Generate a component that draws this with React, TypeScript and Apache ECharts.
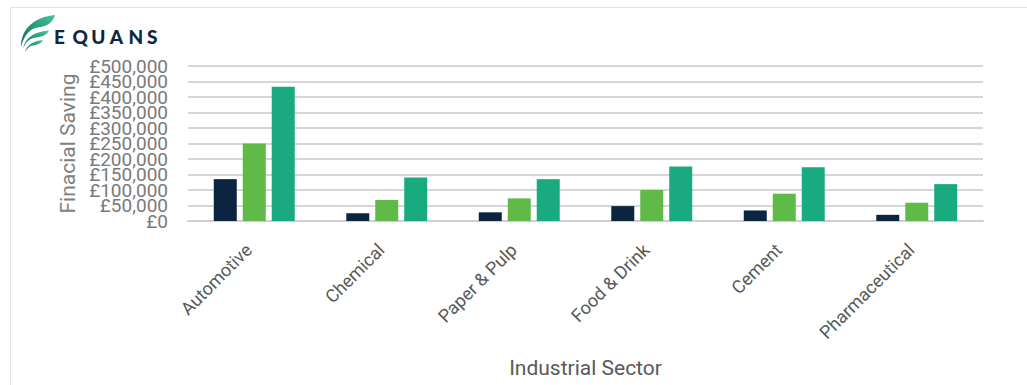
import React, { useEffect, useRef } from "react";
import * as echarts from "echarts";

const categories = ["Automotive", "Chemical", "Paper & Pulp", "Food & Drink", "Cement", "Pharmaceutical"];
const seriesLow = [135000, 25000, 28000, 48000, 34000, 20000];
const seriesMid = [250000, 68000, 73000, 100000, 88000, 59000];
const seriesHigh = [433000, 140000, 135000, 176000, 173000, 119000];
const colors = ["#0b2540", "#5fba47", "#1aaa80"];
const tickValuesEven = [0, 100000, 200000, 300000, 400000, 500000];
const tickValuesOdd = [50000, 150000, 250000, 350000, 450000];
const logoLetters = ["E", "Q", "U", "A", "N", "S"];

const blade1 = "M0 32 C0 13 14 2 34 0 C32 7 27 11 19 12 C9 13 3 20 0 32 Z";
const blade2 = "M2 34 C4 23 12 17 28 15.5 C26 20 21 22 15 22.5 C8 23 4 28 2 34 Z";
const blade3 = "M4 37 C6 30 12 26 22 25 C20 29 16 30 12 30.5 C8 31 6 34 4 37 Z";

let registered = false;
function registerShapes() {
  if (registered) return;
  echarts.graphic.registerShape("blade1", echarts.graphic.extendPath(blade1, {}) as any);
  echarts.graphic.registerShape("blade2", echarts.graphic.extendPath(blade2, {}) as any);
  echarts.graphic.registerShape("blade3", echarts.graphic.extendPath(blade3, {}) as any);
  registered = true;
}

export default function App() {
  const ref = useRef<HTMLDivElement>(null);
  useEffect(() => {
    registerShapes();
    const chart = echarts.init(ref.current!, undefined, { renderer: "svg" });
    const grad = () =>
      new echarts.graphic.LinearGradient(0, 1, 1, 0, [
        { offset: 0, color: "#0b6a5a" },
        { offset: 1, color: "#45c79a" },
      ]);
    const fmt = (v: number) => "£" + v.toLocaleString("en-GB");
    const labelBase = {
      formatter: fmt,
      margin: 20,
      fontSize: 19,
      color: "#7a7a7a",
      fontFamily: "Roboto",
      showMinLabel: true,
      showMaxLabel: true,
      hideOverlap: false,
    };
    chart.setOption({
      animation: false,
      backgroundColor: "#ffffff",
      grid: { left: 188, right: 44, top: 66, bottom: 164, containLabel: false },
      xAxis: {
        type: "category",
        data: categories,
        axisLine: { lineStyle: { color: "#cfcfcf", width: 2 } },
        axisTick: { show: false },
        axisLabel: {
          rotate: 45,
          margin: 20,
          padding: [0, 8, 0, 0],
          fontSize: 18,
          color: "#595959",
          fontFamily: "Roboto",
          interval: 0,
        },
        name: "Industrial Sector",
        nameLocation: "middle",
        nameGap: 136,
        nameTextStyle: { fontSize: 21, color: "#595959", fontFamily: "Roboto" },
      },
      yAxis: [
        {
          type: "value",
          min: 0,
          max: 500000,
          interval: 50000,
          axisLine: { show: false },
          axisTick: { show: false },
          splitLine: { lineStyle: { color: "#d6d6d6", width: 2 } },
          axisLabel: { ...labelBase, customValues: tickValuesEven },
          name: "Finacial Saving",
          nameLocation: "middle",
          nameGap: 107,
          nameTextStyle: { fontSize: 21, color: "#808080", fontFamily: "Roboto" },
        },
        {
          type: "value",
          position: "left",
          min: 0,
          max: 500000,
          interval: 50000,
          axisLine: { show: false },
          axisTick: { show: false },
          splitLine: { show: false },
          axisLabel: { ...labelBase, customValues: tickValuesOdd },
        },
      ],
      series: [seriesLow, seriesMid, seriesHigh].map((d, i) => ({
        type: "bar",
        data: d,
        barWidth: 23,
        barGap: "26%",
        itemStyle: { color: colors[i] },
      })),
      graphic: [
        { type: "line", shape: { x1: 10.5, y1: 7.5, x2: 1027, y2: 7.5 }, style: { stroke: "#dde3ec", lineWidth: 1 } },
        { type: "line", shape: { x1: 10.5, y1: 7.5, x2: 10.5, y2: 385 }, style: { stroke: "#dde3ec", lineWidth: 1 } },
        {
          type: "group",
          left: 21,
          top: 15,
          children: [
            { type: "blade1", x: 0, y: 0, style: { fill: grad() } },
            { type: "blade2", x: 0, y: 0, style: { fill: grad() } },
            { type: "blade3", x: 0, y: 0, style: { fill: grad() } },
          ],
        },
        ...logoLetters.map((ch, i) => ({
          type: "text",
          left: 54 + i * 18.6,
          top: 27,
          style: {
            text: ch,
            fill: "#0e2841",
            font: "900 19px Lato",
          },
        })),
      ],
    });
    return () => chart.dispose();
  }, []);
  return (
    <div
      ref={ref}
      style={{ position: "fixed", left: 0, top: 0, width: 1027, height: 385 }}
    />
  );
}
